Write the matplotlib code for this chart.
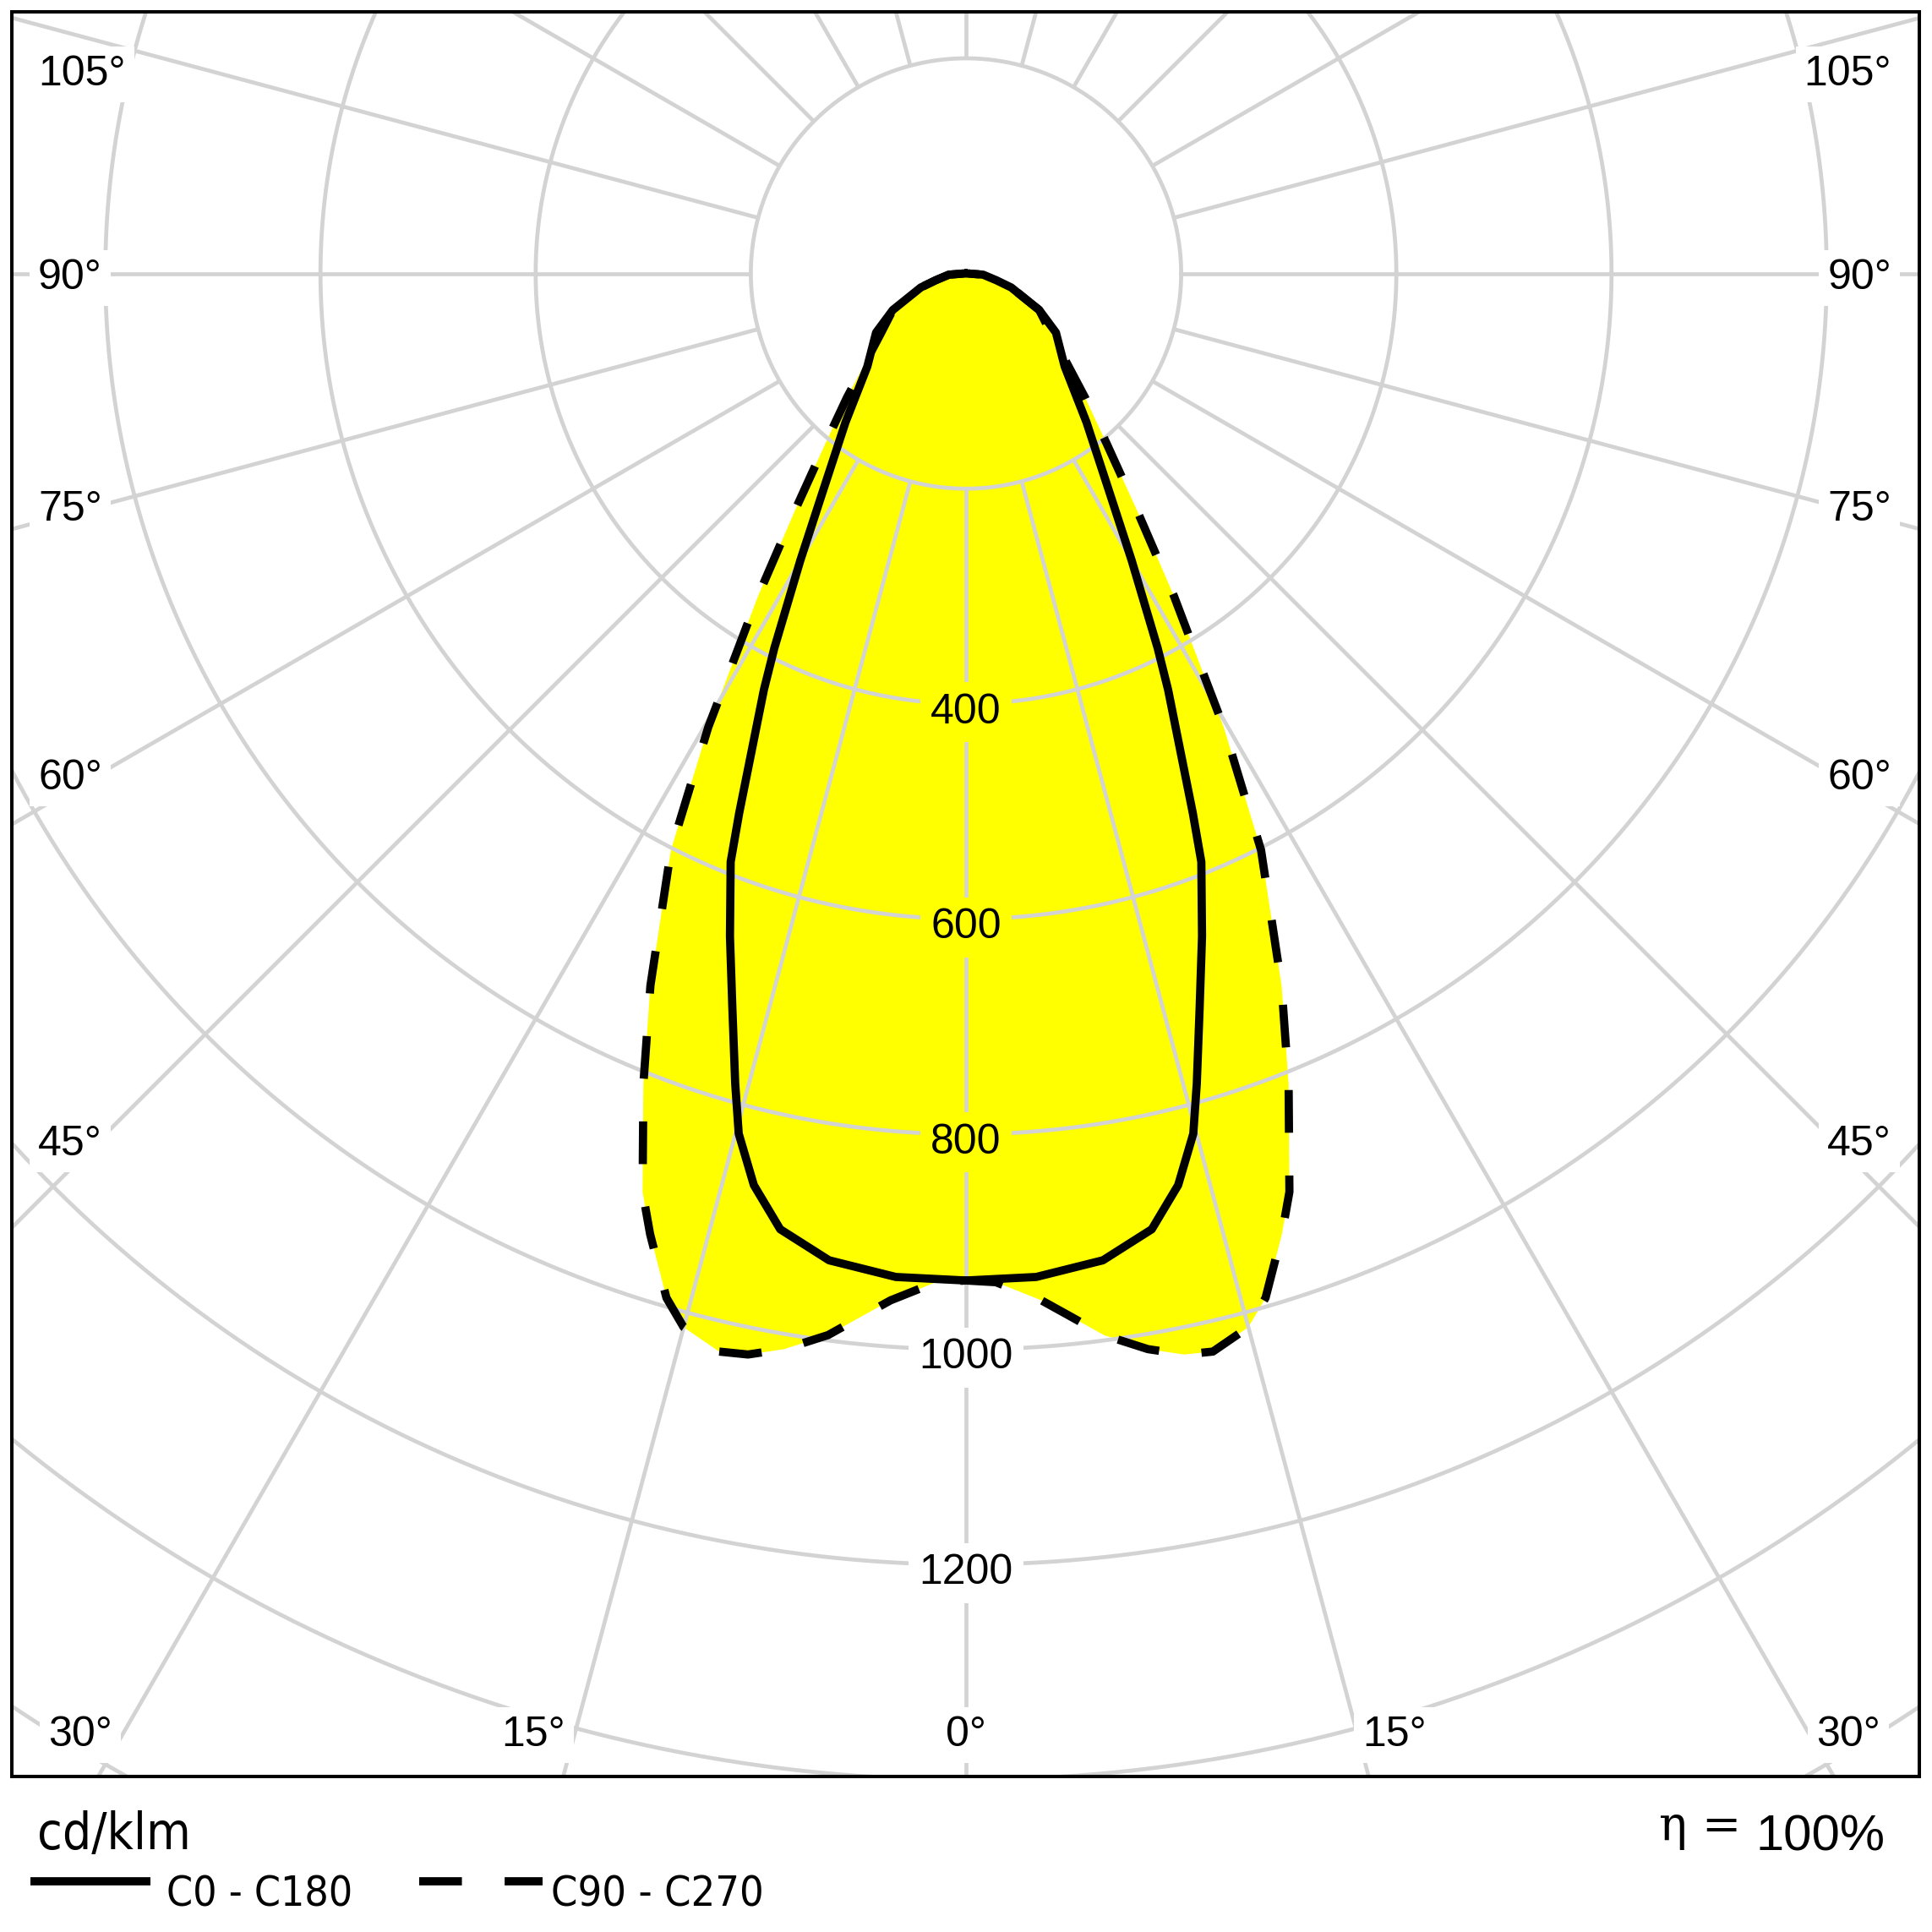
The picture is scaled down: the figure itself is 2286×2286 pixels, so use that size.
import os
import numpy as np
import matplotlib.pyplot as plt
from matplotlib.lines import Line2D
from matplotlib import font_manager as fm

# luminous intensity, cd/klm, against gamma angle (deg)
gamma_c0 = [0, 4, 7.9, 11, 13.1, 14.8, 15.9, 17.6, 19.6, 21.8, 22.8, 25.9, 27.1,
            30, 33.2, 39, 46.7, 56.7, 63.5, 72.8, 77.4, 86, 90]
cd_c0 = [936, 935, 926, 905, 870, 827, 783, 718, 654, 589, 544, 430, 391,
         308, 244, 178, 126, 100, 76, 44, 29, 16, 2]

gamma_c90 = [0, 1.7, 4.2, 5.7, 7.4, 9.6, 11.4, 12.9, 15.0, 16.3, 18.2, 19.4, 21.7,
             23.9, 27.1, 29.6, 30.5, 32.8, 35.8, 39.6, 43.8, 54.5, 63.5, 72.8,
             77.4, 86, 90]
cd_c90 = [936, 938, 957, 974, 995, 1014, 1025, 1028, 1014, 992, 940, 905, 811,
          724, 602, 485, 440, 357, 272, 205, 160, 98, 76, 44,
          29, 16, 2]

ring_values = [200, 400, 600, 800, 1000, 1200, 1400, 1600, 1800, 2000]
ring_labels = [400, 600, 800, 1000, 1200]
grid_angles = list(range(0, 360, 15))

side_labels = ['105°', '90°', '75°', '60°', '45°']
bottom_labels = ['30°', '15°', '0°', '15°', '30°']
legend_names = ['C0 - C180', 'C90 - C270']

W = H = 2286
ox, oy = 1143, 323.6      # pole of the diagram, pixels
ppu = 1.273               # pixels per cd/klm
frame = (14, 14, 2271, 2102)

plt.rcParams['font.family'] = ['Liberation Sans', 'DejaVu Sans']
grid_c = '#d3d3d3'
grid_lw = 3.4
curve_lw = 7
dash = (0, (5.2, 5.2))
lab_size = 36
half_cap = 0.716 * lab_size * 100 / 72 / 2   # px, to centre digits on a point


def condensed_font():
    prefs = ['LiberationSansNarrow-Regular', 'DejaVuSansCondensed.', 'NotoSans-Condensed.',
             'RobotoCondensed-Regular', 'OpenSans_Condensed-Regular', 'NotoSans-SemiCondensed.']
    files = [f.fname for f in fm.fontManager.ttflist]
    for p in prefs:
        for fn in files:
            if p in os.path.basename(fn):
                return fm.FontProperties(fname=fn)
    return fm.FontProperties(family='Liberation Sans')


def outline(g, v):
    g = np.radians(np.asarray(g, float))
    v = np.asarray(v, float)
    xl = -v[::-1] * np.sin(g[::-1])
    yl = -v[::-1] * np.cos(g[::-1])
    xr = v[1:] * np.sin(g[1:])
    yr = -v[1:] * np.cos(g[1:])
    return np.r_[xl, xr], np.r_[yl, yr]


fig = plt.figure(figsize=(W / 100, H / 100), dpi=100)
l, t, r, b = frame
ax = fig.add_axes([l / W, 1 - b / H, (r - l) / W, (b - t) / H])
ax.set_xlim((l - ox) / ppu, (r - ox) / ppu)
ax.set_ylim(-(b - oy) / ppu, (oy - t) / ppu)
ax.set_xticks([])
ax.set_yticks([])
for s in ax.spines.values():
    s.set_linewidth(2.9)
    s.set_color('black')

x0, y0 = outline(gamma_c0, cd_c0)
x90, y90 = outline(gamma_c90, cd_c90)
ax.fill(x0, y0, color='#ffff00', lw=0, zorder=1)
ax.fill(x90, y90, color='#ffff00', lw=0, zorder=1)

th = np.linspace(0, 2 * np.pi, 1441)
for rv in ring_values:
    ax.plot(rv * np.cos(th), rv * np.sin(th), color=grid_c, lw=grid_lw, zorder=2)
for a in grid_angles:
    ar = np.radians(a)
    ax.plot([200 * np.sin(ar), 3000 * np.sin(ar)], [-200 * np.cos(ar), -3000 * np.cos(ar)],
            color=grid_c, lw=grid_lw, solid_capstyle='butt', zorder=2)

for rv in ring_labels:
    bg = '#ffff00' if rv < cd_c0[0] else 'white'
    ax.text(0, -rv - (5 + half_cap) / ppu, str(rv), ha='center', va='baseline',
            fontsize=lab_size, zorder=3,
            bbox=dict(boxstyle='square,pad=0.25', fc=bg, ec='none'))

ax.plot(x90, y90, color='black', lw=curve_lw, ls=dash, dash_capstyle='butt', zorder=4)
ax.plot(x0, y0, color='black', lw=curve_lw, solid_joinstyle='round', zorder=5)

# angle labels
box = dict(boxstyle='square,pad=0.2', fc='white', ec='none')
for s, yy in zip(side_labels, [83, 324, 598, 916, 1349]):
    yb = 1 - (yy + half_cap) / H
    fig.text(45 / W, yb, s, ha='left', va='baseline', fontsize=lab_size, bbox=box)
    fig.text(2238 / W, yb, s, ha='right', va='baseline', fontsize=lab_size, bbox=box)
for s, xx in zip(bottom_labels, [95, 631, 1143, 1650, 2187]):
    fig.text(xx / W, 1 - (2048 + half_cap) / H, s, ha='center', va='baseline',
             fontsize=lab_size, bbox=box)

# footer
cf = condensed_font()
unit = fig.text(44 / W, 1 - 2188 / H, 'cd/klm', ha='left', va='baseline',
                fontproperties=cf.copy())
unit.set_fontsize(52)
fig.text(1963 / W, 1 - 2177 / H, 'η =', ha='left', va='baseline', fontsize=40,
         family=['DejaVu Serif'])
fig.text(2077 / W, 1 - 2190 / H, '100%', ha='left', va='baseline', fontsize=43)

fig.add_artist(Line2D([36 / W, 178 / W], [1 - 2226 / H] * 2, color='black', lw=curve_lw,
                      solid_capstyle='butt', transform=fig.transFigure))
fig.add_artist(Line2D([496 / W, 642 / W], [1 - 2226 / H] * 2, color='black', lw=curve_lw,
                      ls=dash, dash_capstyle='butt', transform=fig.transFigure))
leg = []
for name, xx in zip(legend_names, [197, 652]):
    tx = fig.text(xx / W, 1 - 2256 / H, name, ha='left', va='baseline',
                  fontproperties=cf.copy())
    tx.set_fontsize(42)
    leg.append(tx)

# fit the condensed texts to the widths they take in the reference
fig.canvas.draw()
rend = fig.canvas.get_renderer()
for tx, target in zip([unit] + leg, [182, 221, 252]):
    w = tx.get_window_extent(rend).width
    tx.set_fontsize(min(tx.get_fontsize() * target / w, tx.get_fontsize()))

fig.savefig('out.png', dpi=100)
